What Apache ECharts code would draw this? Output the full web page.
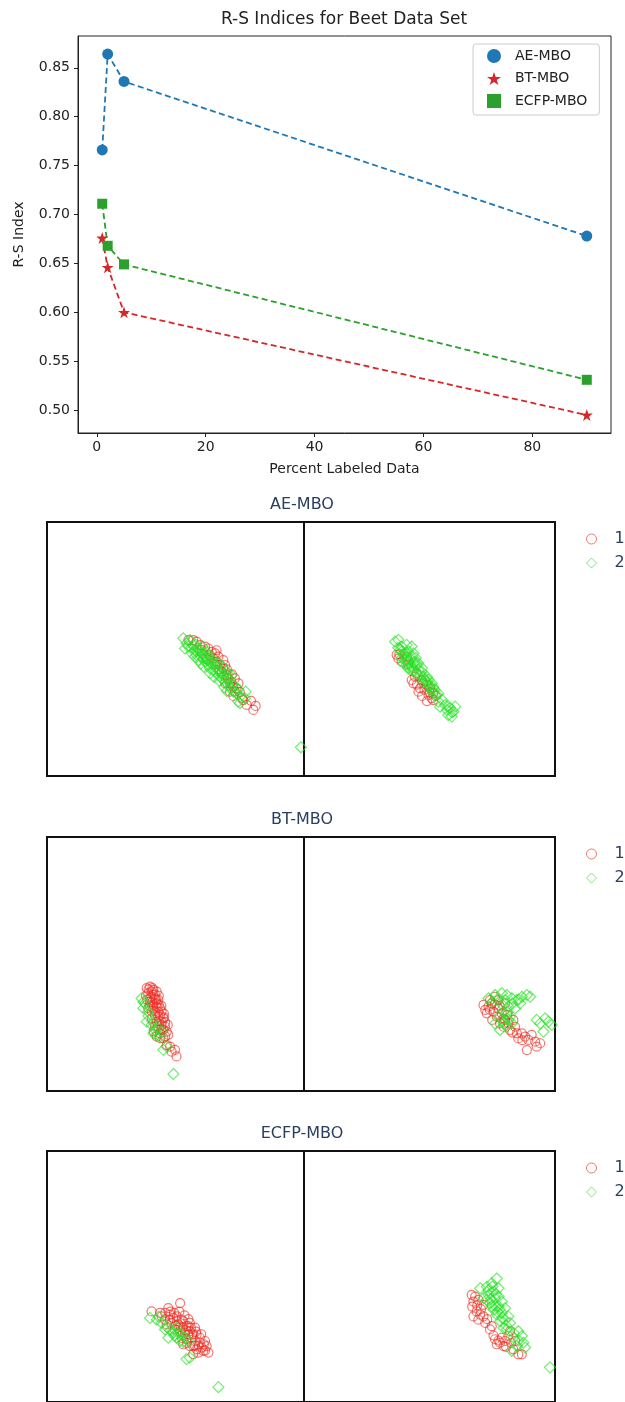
<!DOCTYPE html>
<html>
<head>
<meta charset="utf-8">
<title>R-S Indices for Beet Data Set</title>
<script src="https://cdn.jsdelivr.net/npm/echarts@6/dist/echarts.min.js"></script>
<style>
  html, body { margin: 0; padding: 0; background: #fff; }
  #main { width: 625px; height: 1402px; }
</style>
</head>
<body>
<div id="main"></div>
<script>
// ---- line chart data ----
var percentLabeled = [1, 2, 5, 90];
var aeMbo = [0.766, 0.864, 0.836, 0.678];
var btMbo = [0.676, 0.646, 0.600, 0.495];
var ecfpMbo = [0.711, 0.668, 0.649, 0.531];
var xTicks = [0, 20, 40, 60, 80];
var yTicks = [0.50, 0.55, 0.60, 0.65, 0.70, 0.75, 0.80, 0.85];

// ---- embedding scatter data (class 1 = red circles, class 2 = green diamonds) ----
var aeLeft1 = [[55.0,53.5],[56.9,53.5],[58.2,52.9],[59.5,51.5],[61.5,50.9],[60.2,49.6],[62.8,50.2],[64.1,48.9],[65.4,48.3],[64.7,46.3],[66.0,45.0],[66.7,47.0],[67.3,43.7],[68.6,45.6],[69.3,43.7],[68.0,41.1],[68.6,42.4],[69.9,39.7],[70.5,38.4],[71.2,36.5],[71.8,37.1],[73.1,38.4],[69.3,36.5],[72.5,35.2],[73.8,34.5],[71.2,33.2],[73.1,33.2],[75.9,30.7],[76.4,29.9],[77.7,28.0],[79.4,29.6],[80.3,26.0],[81.2,27.6],
  [63.5,47.5],[65.5,44.0],[67.0,42.0],[62.0,46.0],[70.0,42.0],[72.0,40.0],[74.5,36.5],[75.0,33.0],[72.5,31.5],[66.0,49.5]];
var aeLeft2 = [[53.0,54.2],[54.3,52.2],[53.7,50.2],[55.6,53.5],[56.9,51.5],[57.6,49.6],[58.9,50.2],[58.2,47.6],[60.2,48.3],[60.8,46.3],[61.5,45.0],[62.1,47.0],[62.8,43.7],[64.1,44.3],[63.4,42.4],[64.7,41.7],[65.4,41.1],[66.7,39.7],[66.0,43.0],[68.0,38.4],[68.6,39.7],[69.3,37.1],[70.5,35.8],[71.2,37.8],[71.8,34.5],[72.5,33.2],[73.8,32.5],[73.1,35.2],[75.1,31.2],[74.4,29.3],[77.0,30.6],[59.5,48.9],[61.2,47.3],[62.5,45.6],[58.9,45.6],[59.9,44.3],[63.8,46.3],[65.4,43.7],[67.3,41.7],[69.9,41.1],[57.6,47.0],[56.3,48.3],[71.8,39.7],[77.3,33.2],[75.1,28.7],[98.8,11.3],
  [56.0,50.5],[57.5,52.0],[60.5,51.0],[62.0,49.0],[63.0,47.5],[61.0,43.0],[63.5,40.5],[65.0,39.0],[67.0,37.5],[69.0,35.0],[70.0,33.5],[66.5,44.5],[68.0,43.5],[70.5,40.0],[72.0,36.0],[74.5,34.0],[64.0,45.5],[60.0,47.0],[58.0,49.0],[55.0,51.0],[67.5,40.5],[70.0,38.5]];
var aeRight1 = [[36.9,47.7],[37.6,46.3],[38.9,45.0],[40.9,47.0],[42.9,37.8],[43.6,36.5],[45.6,33.2],[47.6,36.5],[48.9,35.9],[50.2,34.5],[51.5,32.6],[50.9,30.6],[51.5,29.9],[46.2,34.5],[44.9,40.4],[46.9,37.8],[44.2,39.1],[49.6,31.9],
  [38.0,48.0],[41.5,44.0],[45.0,36.0],[48.0,34.0],[50.0,33.0],[52.5,31.5],[47.0,31.5],[49.0,29.5]];
var aeRight2 = [[36.3,52.9],[37.6,53.6],[38.9,51.0],[40.9,51.6],[42.9,51.0],[38.3,49.6],[39.6,47.7],[41.6,49.0],[43.6,48.3],[40.3,45.7],[42.3,46.3],[44.2,45.0],[40.9,43.7],[42.9,43.1],[44.9,43.7],[45.6,41.8],[46.2,39.8],[43.6,41.1],[47.6,39.1],[48.2,37.8],[48.9,37.2],[49.6,35.9],[50.2,35.2],[50.9,33.9],[51.5,32.6],[52.9,31.9],[53.5,29.3],[54.2,27.3],[56.2,28.0],[56.9,26.0],[58.2,26.7],[59.5,25.4],[57.5,24.0],[58.9,23.4],[60.2,27.3],[41.6,45.0],[43.6,44.4],[39.6,44.4],[42.3,41.8],[46.9,41.1],[48.9,39.1],[50.9,36.5],
  [37.5,50.5],[39.0,49.0],[40.5,48.5],[41.0,46.0],[39.0,46.5],[43.0,47.0],[44.5,46.5],[45.5,44.5],[41.5,42.5],[43.5,42.0],[47.0,42.5],[45.0,40.0],[47.5,37.0],[49.5,38.0],[51.5,35.0],[52.0,34.0],[53.5,32.5],[55.0,30.0],[57.5,27.5],[59.0,25.0]];

var btLeft1 = [[38.8,40.5],[40.1,41.1],[41.4,39.8],[42.7,39.1],[39.4,38.5],[40.7,37.2],[42.0,36.5],[43.3,35.9],[40.1,35.2],[41.4,33.9],[42.7,33.2],[44.0,32.6],[44.6,31.3],[40.7,31.3],[42.0,29.9],[43.3,29.3],[45.3,28.6],[42.7,27.3],[44.6,26.0],[45.9,25.4],[46.6,23.4],[44.0,22.7],[42.7,21.4],[45.3,20.8],[47.2,22.1],[46.6,18.1],[47.9,17.5],[49.8,16.2],[50.4,13.6],[48.5,15.5],[40.7,39.1],[41.4,37.8],[40.1,36.5],[42.7,34.5],[41.4,32.6],[44.0,29.9],[43.3,31.3],[44.6,27.3],[42.0,25.4],[45.3,24.1],[44.0,20.8],[39.4,32.6],[40.7,28.6],
  [39.5,40.0],[41.0,40.5],[42.0,38.0],[43.5,37.5],[39.0,36.0],[41.0,35.0],[43.5,34.0],[44.5,33.5],[42.0,31.5],[45.5,30.5],[43.5,27.5],[46.0,27.0],[44.5,24.5],[46.0,21.5],[41.5,23.5],[43.0,25.5],[47.0,26.0],[45.5,29.0],[42.5,36.0],[40.0,33.5],[38.5,37.5]];
var btLeft2 = [[36.8,36.5],[38.1,34.5],[37.5,32.6],[39.4,31.3],[38.8,27.3],[40.7,26.0],[42.0,24.1],[43.3,24.7],[41.4,22.7],[44.0,21.4],[44.6,23.4],[46.6,17.5],[45.3,16.2],[49.2,6.7],
  [37.5,35.0],[39.5,29.5],[41.0,27.5],[42.5,22.0]];
var btRight1 = [[71.5,33.9],[72.2,31.9],[72.8,30.6],[73.5,33.2],[74.8,34.5],[74.1,35.8],[76.1,37.1],[75.5,31.2],[77.5,32.5],[76.8,29.3],[78.8,30.6],[80.1,28.0],[78.1,26.6],[79.5,25.3],[81.4,26.6],[82.1,24.0],[84.1,25.3],[84.8,22.7],[85.4,20.7],[86.8,22.7],[88.1,21.4],[89.4,20.1],[90.7,22.1],[92.1,19.4],[94.1,18.8],[88.8,16.1],[92.7,17.5],[83.4,28.0],[77.5,35.8],[80.1,34.5],
  [74.0,32.0],[76.0,34.0],[78.0,33.5],[79.5,28.5],[81.0,30.0],[75.0,28.0],[83.0,23.0],[87.0,20.0]];
var btRight2 = [[73.5,36.5],[76.1,37.8],[78.8,38.5],[80.8,37.8],[82.8,36.5],[84.8,35.8],[86.8,37.1],[88.8,37.8],[90.1,37.1],[86.1,34.5],[84.1,32.5],[81.4,33.2],[79.5,31.2],[77.5,29.3],[78.8,28.0],[80.8,25.3],[82.8,26.6],[82.1,29.3],[76.1,26.6],[78.1,24.0],[92.7,28.0],[94.1,26.6],[96.1,28.6],[97.4,27.3],[98.7,26.0],[95.4,23.4],[80.1,35.8],
  [75.0,35.0],[77.0,36.0],[79.0,34.0],[81.0,31.0],[83.0,34.5],[79.5,26.5],[81.5,28.0],[85.5,36.0]];

var ecfpLeft1 = [[40.7,36.1],[51.8,39.4],[47.2,37.4],[44.6,34.1],[45.9,32.8],[47.9,34.8],[49.2,33.5],[50.5,34.1],[52.4,32.8],[46.6,30.9],[48.5,31.5],[51.1,30.9],[53.0,32.2],[54.3,30.2],[55.6,31.5],[49.8,28.9],[51.8,28.2],[53.7,27.6],[55.6,28.2],[57.6,29.6],[58.2,26.9],[56.3,25.6],[54.3,25.0],[57.6,24.3],[59.5,23.7],[61.5,24.3],[60.2,21.7],[62.1,22.3],[62.8,19.7],[58.2,21.0],[55.6,22.3],[53.0,23.0],[56.9,19.1],[58.9,19.7],[55.0,30.2],[57.0,26.9],[50.5,32.2],[53.0,29.6],[55.0,26.9],[56.9,22.3],[47.9,32.8],[59.5,25.6],[60.8,20.4],
  [48.0,36.0],[49.5,35.5],[51.5,36.0],[50.0,30.5],[52.0,30.0],[54.0,28.5],[56.0,29.5],[56.5,27.0],[58.0,28.0],[59.0,22.5],[61.0,23.0],[57.5,22.5],[54.5,23.5],[52.5,25.5],[46.0,35.5],[44.0,35.5],[53.5,34.5],[55.0,33.0],[60.0,27.0],[61.5,20.5]];
var ecfpLeft2 = [[40.1,33.5],[42.7,32.8],[44.6,31.5],[45.9,28.9],[47.2,25.6],[49.2,27.6],[50.5,25.6],[51.8,24.3],[53.7,25.6],[55.0,24.3],[50.5,29.6],[52.4,26.9],[55.6,17.7],[54.3,17.1],[66.7,5.9],
  [43.5,34.0],[46.5,30.0],[48.0,28.5],[49.5,26.5],[51.0,27.5],[53.0,24.0]];
var ecfpRight1 = [[66.8,42.7],[68.2,42.0],[67.5,40.0],[69.5,40.7],[68.8,36.1],[67.5,34.1],[70.2,34.8],[71.5,34.1],[69.5,32.8],[72.2,31.5],[74.8,30.2],[74.1,28.9],[76.1,25.0],[78.1,23.6],[80.1,24.3],[76.8,23.0],[79.5,22.3],[81.4,26.3],[84.1,24.3],[83.4,21.0],[85.4,19.0],[86.8,19.0],[82.1,28.2],[78.8,25.6],[71.5,38.7],
  [67.0,38.0],[69.0,38.5],[70.5,37.0],[73.0,33.0],[75.5,26.5],[77.5,24.5],[80.5,22.0],[82.5,23.5]];
var ecfpRight2 = [[76.8,49.2],[74.8,47.3],[72.8,45.9],[70.2,45.3],[77.5,45.3],[75.5,44.0],[73.5,42.7],[71.5,41.4],[76.1,41.4],[78.8,40.0],[74.1,39.4],[77.5,38.1],[80.1,37.4],[75.5,36.8],[78.8,35.5],[81.4,34.1],[76.8,34.8],[80.1,32.8],[78.1,32.2],[82.1,31.5],[79.5,29.5],[80.8,28.9],[85.4,28.2],[86.8,26.3],[83.4,25.6],[87.4,23.6],[84.8,22.3],[88.1,21.7],[82.8,20.4],[98.0,13.8],[72.8,40.7],[74.8,38.1],
  [73.5,44.5],[75.0,46.0],[76.5,43.0],[77.5,42.0],[74.5,41.0],[76.0,38.5],[78.0,37.0],[79.0,33.5],[77.0,36.0],[80.5,30.5],[83.5,27.5],[85.5,24.5]];

var font = 'DejaVu Sans';
var navy = '#2a3f5f';
var redStroke = 'rgba(236,44,34,0.8)';
var greenStroke = 'rgba(36,226,36,0.8)';
var starPath = 'path://M50,0 L61.8,35.4 L99,35.4 L68.9,57.3 L80.4,92.7 L50,70.8 L19.6,92.7 L31.1,57.3 L1,35.4 L38.2,35.4 Z';

function pairs(ys) {
  return ys.map(function (v, i) { return [percentLabeled[i], v]; });
}

function lineSeries(name, data, color, symbol, size) {
  return {
    name: name,
    type: 'line',
    xAxisIndex: 0,
    yAxisIndex: 0,
    data: pairs(data),
    symbol: symbol,
    symbolSize: size,
    lineStyle: { color: color, width: 1.8, type: [6, 3.5] },
    itemStyle: { color: color },
    silent: true
  };
}

var grids = [{ left: 78, top: 36, width: 533, height: 397, show: true, borderColor: '#222', borderWidth: 1 }];
var xAxes = [{
  gridIndex: 0, type: 'value', min: -3.45, max: 94.45,
  axisLine: { show: true, onZero: false, lineStyle: { color: '#222', width: 1 } },
  axisTick: { show: true, inside: false, length: 4, lineStyle: { color: '#222' }, customValues: xTicks },
  axisLabel: { customValues: xTicks, color: '#222', fontSize: 14, fontFamily: font, margin: 7 },
  splitLine: { show: false },
  name: 'Percent Labeled Data', nameLocation: 'middle', nameGap: 29,
  nameTextStyle: { color: '#222', fontSize: 14, fontFamily: font }
}];
var yAxes = [{
  gridIndex: 0, type: 'value', min: 0.4766, max: 0.8825,
  axisLine: { show: true, onZero: false, lineStyle: { color: '#222', width: 1 } },
  axisTick: { show: true, inside: false, length: 4, lineStyle: { color: '#222' }, customValues: yTicks },
  axisLabel: {
    customValues: yTicks, color: '#222', fontSize: 14, fontFamily: font, margin: 8,
    formatter: function (v) { return v.toFixed(2); }
  },
  splitLine: { show: false },
  name: 'R-S Index', nameLocation: 'middle', nameGap: 52,
  nameTextStyle: { color: '#222', fontSize: 14, fontFamily: font }
}];
var series = [
  lineSeries('AE-MBO', aeMbo, '#1f77b4', 'circle', 11),
  lineSeries('BT-MBO', btMbo, '#d62728', starPath, 12),
  lineSeries('ECFP-MBO', ecfpMbo, '#2ca02c', 'rect', 10)
];
var titles = [{
  text: 'R-S Indices for Beet Data Set',
  left: 344, top: 11, textAlign: 'center', padding: 0,
  textStyle: { color: '#222', fontSize: 17, fontWeight: 'normal', fontFamily: font, lineHeight: 17 }
}];
var legends = [{
  orient: 'vertical',
  left: 473, top: 44,
  padding: [5, 12, 7, 14],
  itemWidth: 14, itemHeight: 14, itemGap: 8.5,
  backgroundColor: 'rgba(255,255,255,0.8)',
  borderColor: '#cccccc', borderWidth: 1, borderRadius: 3,
  selectedMode: false,
  textStyle: { color: '#222', fontSize: 14, fontFamily: font, lineHeight: 14, padding: [0, 0, 0, 9] },
  data: [
    { name: 'AE-MBO', icon: 'circle' },
    { name: 'BT-MBO', icon: starPath },
    { name: 'ECFP-MBO', icon: 'rect' }
  ]
}];

var panels = [
  { title: 'AE-MBO', top: 522, left: [aeLeft1, aeLeft2], right: [aeRight1, aeRight2] },
  { title: 'BT-MBO', top: 837, left: [btLeft1, btLeft2], right: [btRight1, btRight2] },
  { title: 'ECFP-MBO', top: 1151, left: [ecfpLeft1, ecfpLeft2], right: [ecfpRight1, ecfpRight2] }
];

function scatterSeries(name, gi, data, symbol, size, stroke) {
  return {
    name: name,
    type: 'scatter',
    xAxisIndex: gi,
    yAxisIndex: gi,
    data: data,
    symbol: symbol,
    symbolSize: size,
    itemStyle: { color: 'rgba(0,0,0,0)', borderColor: stroke, borderWidth: 1.2 },
    silent: true
  };
}

panels.forEach(function (p) {
  var sides = [[47, 257, p.left], [304, 251, p.right]];
  sides.forEach(function (s) {
    var gi = grids.length;
    grids.push({ left: s[0], top: p.top, width: s[1], height: 254, show: true, borderColor: '#111', borderWidth: 2 });
    xAxes.push({ gridIndex: gi, type: 'value', min: 0, max: 100, show: false });
    yAxes.push({ gridIndex: gi, type: 'value', min: 0, max: 100, show: false });
    series.push(scatterSeries('1', gi, s[2][0], 'circle', 9, redStroke));
    series.push(scatterSeries('2', gi, s[2][1], 'diamond', 11, greenStroke));
  });
  titles.push({
    text: p.title, left: 302, top: p.top - 25, textAlign: 'center', padding: 0,
    textStyle: { color: navy, fontSize: 16, fontWeight: 'normal', fontFamily: font, lineHeight: 16 }
  });
  legends.push({
    orient: 'vertical',
    left: 586, top: p.top + 9,
    padding: 0,
    itemWidth: 10, itemHeight: 10, itemGap: 8,
    selectedMode: false,
    textStyle: { color: navy, fontSize: 16, fontFamily: font, lineHeight: 16, padding: [0, 0, 0, 13] },
    data: [
      { name: '1', icon: 'circle', itemStyle: { color: 'rgba(0,0,0,0)', borderColor: redStroke, borderWidth: 1 } },
      { name: '2', icon: 'diamond', itemStyle: { color: 'rgba(0,0,0,0)', borderColor: greenStroke, borderWidth: 1 } }
    ]
  });
});

var chart = echarts.init(document.getElementById('main'));
chart.setOption({
  animation: false,
  backgroundColor: '#fff',
  title: titles,
  legend: legends,
  grid: grids,
  xAxis: xAxes,
  yAxis: yAxes,
  series: series
});
window.onresize = function () {
  chart.resize();
};
</script>
</body>
</html>
